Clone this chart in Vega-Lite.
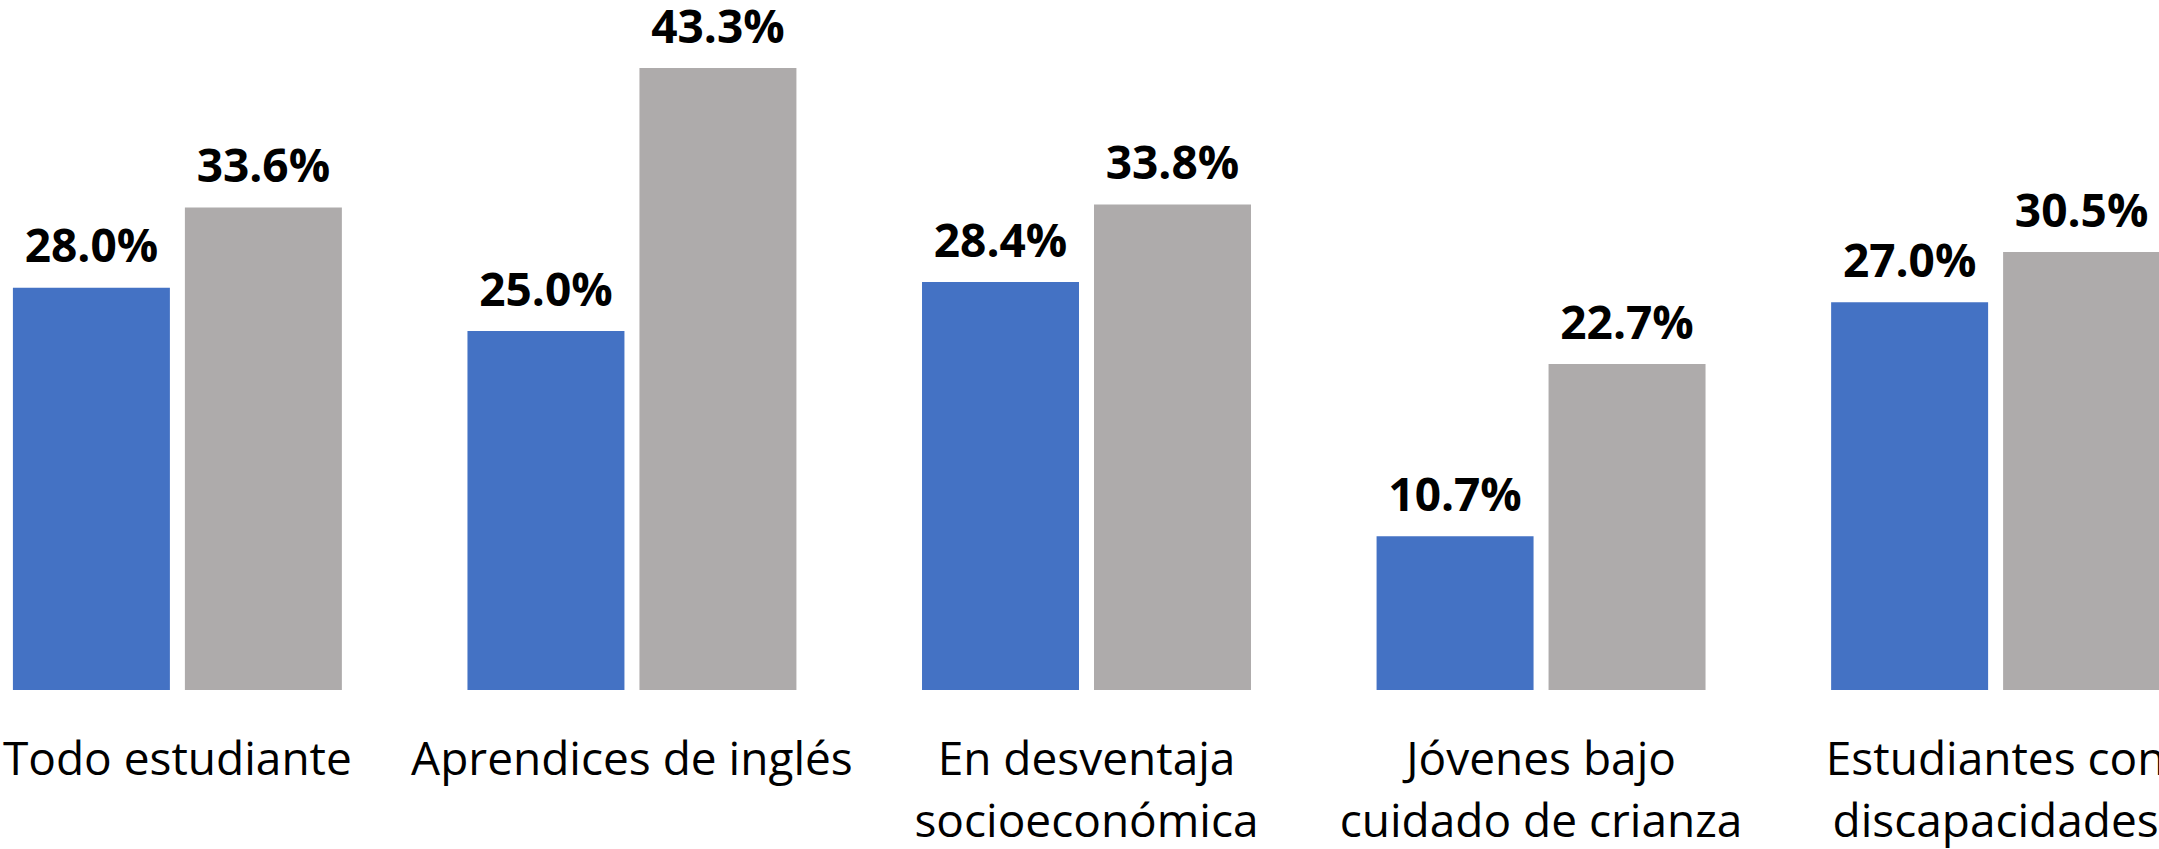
{
  "$schema": "https://vega.github.io/schema/vega-lite/v6.json",
  "width": 2159,
  "height": 690,
  "autosize": {"type": "none"},
  "padding": {"left": 0, "top": 0, "right": 0, "bottom": 159},
  "background": "white",
  "config": {"view": {"stroke": null}},
  "data": {
    "values": [
      {"grupo": "Todo estudiante", "serie": "Serie 1", "valor": 0.280},
      {"grupo": "Todo estudiante", "serie": "Serie 2", "valor": 0.336},
      {"grupo": "Aprendices de inglés", "serie": "Serie 1", "valor": 0.250},
      {"grupo": "Aprendices de inglés", "serie": "Serie 2", "valor": 0.433},
      {"grupo": "En desventaja|socioeconómica", "serie": "Serie 1", "valor": 0.284},
      {"grupo": "En desventaja|socioeconómica", "serie": "Serie 2", "valor": 0.338},
      {"grupo": "Jóvenes bajo|cuidado de crianza", "serie": "Serie 1", "valor": 0.107},
      {"grupo": "Jóvenes bajo|cuidado de crianza", "serie": "Serie 2", "valor": 0.227},
      {"grupo": "Estudiantes con|discapacidades", "serie": "Serie 1", "valor": 0.270},
      {"grupo": "Estudiantes con|discapacidades", "serie": "Serie 2", "valor": 0.305}
    ]
  },
  "encoding": {
    "x": {
      "field": "grupo",
      "type": "nominal",
      "sort": null,
      "scale": {"range": [0, 2173], "paddingInner": 0.2763, "paddingOuter": 0.0284},
      "axis": {
        "title": null,
        "labelExpr": "split(datum.label, '|')",
        "labelAngle": 0,
        "domain": false,
        "ticks": false,
        "labelFont": "Open Sans",
        "labelFontSize": 46,
        "labelColor": "#000000",
        "labelPadding": 48.7,
        "labelLineHeight": 62,
        "labelLimit": 2000,
        "labelOverlap": false,
        "labelFlush": false
      }
    },
    "xOffset": {
      "field": "serie",
      "type": "nominal",
      "sort": null,
      "scale": {"paddingInner": 0.0872, "paddingOuter": 0}
    },
    "y": {
      "field": "valor",
      "type": "quantitative",
      "scale": {"domain": [0, 0.4804], "nice": false},
      "axis": null
    }
  },
  "layer": [
    {
      "mark": {"type": "bar"},
      "encoding": {
        "color": {
          "field": "serie",
          "type": "nominal",
          "scale": {"range": ["#4472C4", "#AEABAB"]},
          "legend": null
        }
      }
    },
    {
      "mark": {
        "type": "text",
        "dy": -25.4,
        "baseline": "alphabetic",
        "font": "Open Sans",
        "fontWeight": "bold",
        "fontSize": 46,
        "color": "#000000"
      },
      "encoding": {
        "text": {"field": "valor", "type": "quantitative", "format": ".1%"}
      }
    }
  ]
}
